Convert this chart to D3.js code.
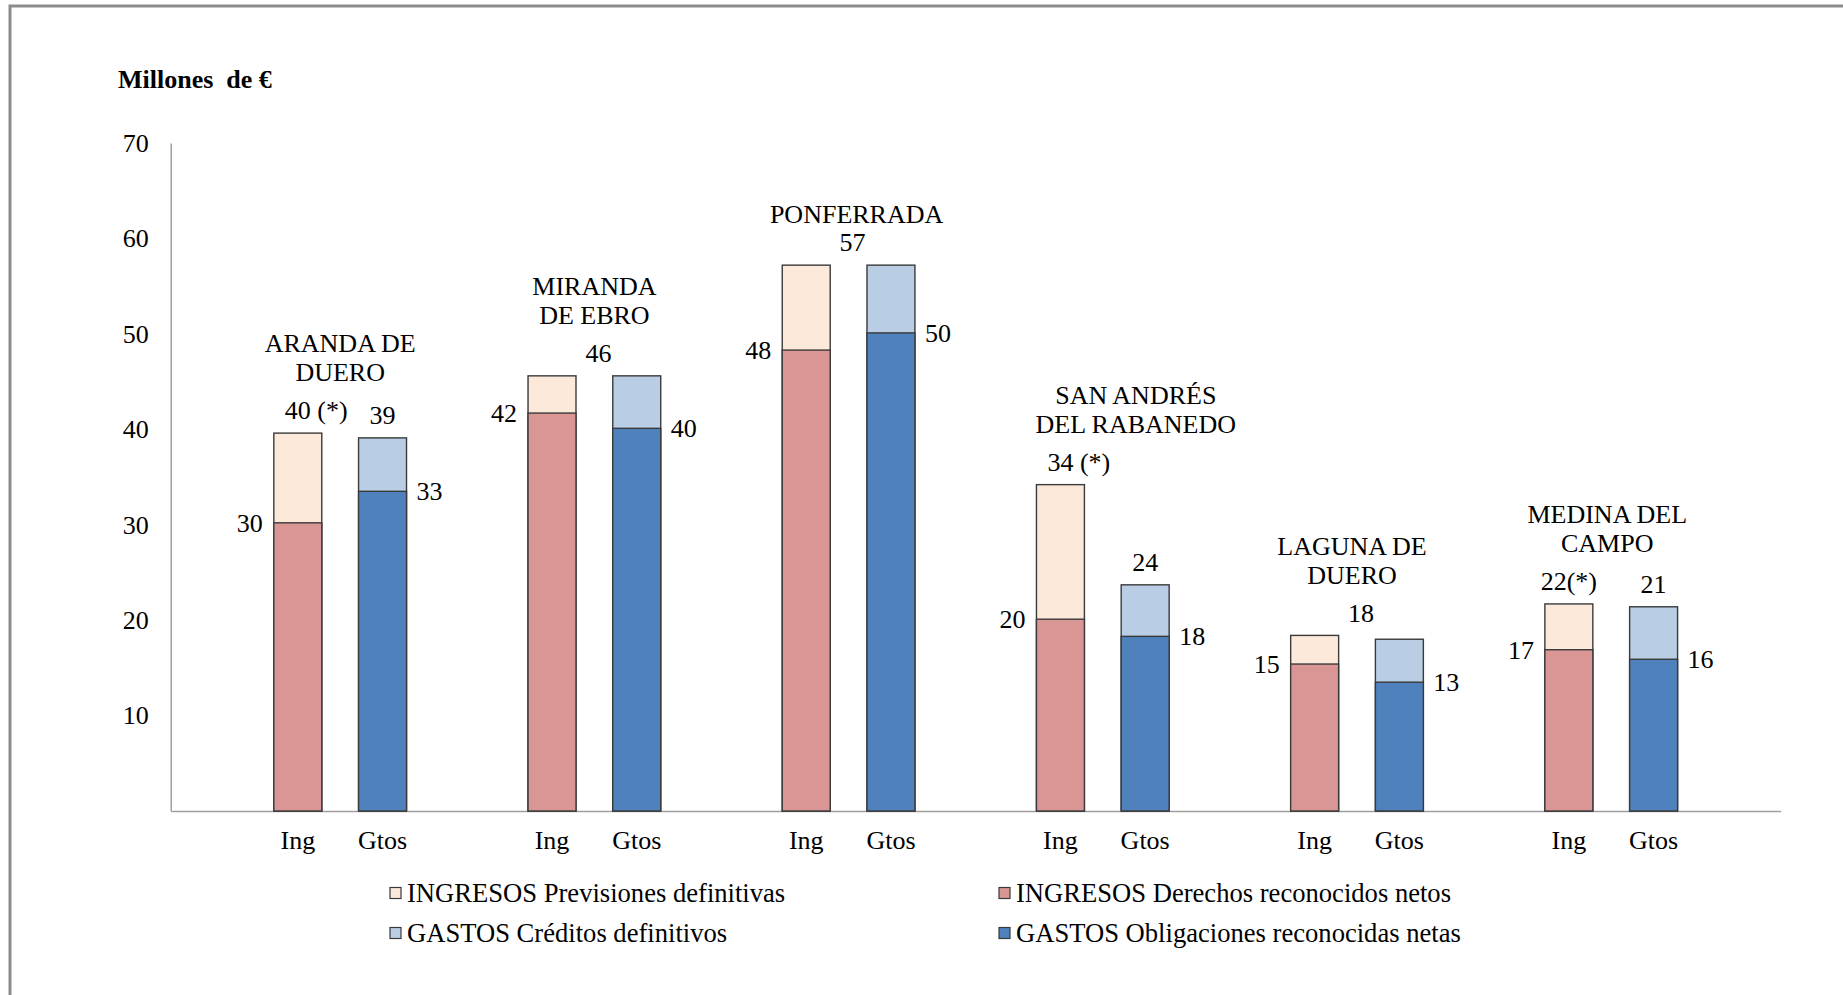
<!DOCTYPE html>
<html>
<head>
<meta charset="utf-8">
<script src="https://cdn.jsdelivr.net/npm/d3@7"></script>
<style>
  html, body { margin: 0; padding: 0; background: #fff; }
  svg { display: block; }
  text { font-family: "Liberation Serif", "Times New Roman", serif; fill: #000; }
</style>
</head>
<body>
<svg id="chart" width="1843" height="995"></svg>
<script>
// ---------- DATA ----------
const cities = [["ARANDA DE", "DUERO"], ["MIRANDA", "DE EBRO"], ["PONFERRADA"], ["SAN ANDRÉS", "DEL RABANEDO"], ["LAGUNA DE", "DUERO"], ["MEDINA DEL", "CAMPO"]];
const ingPrevisiones   = [39.6, 45.6, 57.2, 34.2, 18.4, 21.7];
const ingDerechos      = [30.2, 41.7, 48.3, 20.1, 15.4, 16.9];
const gtosCreditos     = [39.1, 45.6, 57.2, 23.7, 18.0, 21.4];
const gtosObligaciones = [33.5, 40.1, 50.1, 18.3, 13.5, 15.9];
const ingTotalLabels   = ["40 (*)", null, null, "34 (*)", null, "22(*)"];
const gtosTotalLabels  = ["39", null, null, "24", null, "21"];
const sharedTotalLabels = [null, "46", "57", null, "18", null];
const ingDerechosLabels = ["30", "42", "48", "20", "15", "17"];
const gtosObligLabels   = ["33", "40", "50", "18", "13", "16"];
const slotNames = ["", "Ing", "Gtos"];
const yTicks = [10, 20, 30, 40, 50, 60, 70];
const yTitle = "Millones  de €";
const legendItems = ["INGRESOS Previsiones definitivas", "INGRESOS Derechos reconocidos netos", "GASTOS Créditos definitivos", "GASTOS Obligaciones reconocidas netas"];

// ---------- LAYOUT / STYLE ----------
const colors = { prev: "#FDE9D9", der: "#D99694", cred: "#B9CDE5", obl: "#4F81BD" };
const legendColors = [colors.prev, colors.der, colors.cred, colors.obl];
const nameDx = [0, 0, 8, 33, -5, -4];
const FS = 26;
const plot = { left: 170.7, right: 1780.7, top: 143, bottom: 811 };

const svg = d3.select("#chart");

// outer frame
svg.append("rect").attr("x", 10).attr("y", 6).attr("width", 1845).attr("height", 1000)
  .attr("fill", "none").attr("stroke", "#8c8c8c").attr("stroke-width", 3);

// slots: blank, Ing, Gtos per city, plus trailing blank
const slots = [];
cities.forEach((c, i) => slotNames.forEach((s, j) => slots.push({ key: i * 3 + j, label: s })));
slots.push({ key: slots.length, label: "" });

const x = d3.scaleBand().domain(slots.map(d => d.key)).range([plot.left, plot.right])
  .paddingInner(0.434).paddingOuter(0.217);
const y = d3.scaleLinear().domain([0, 70]).range([plot.bottom, plot.top]);

// axes
const yAxis = svg.append("g").attr("transform", `translate(${plot.left},0)`)
  .call(d3.axisLeft(y).tickValues(yTicks).tickSize(0).tickSizeOuter(0).tickPadding(22));
yAxis.select(".domain").attr("stroke", "#a0a0a0").attr("stroke-width", 1.5);
yAxis.selectAll("text").style("font-size", FS + "px").style("font-family", "Liberation Serif, serif").attr("fill", "#000");

const xAxis = svg.append("g").attr("transform", `translate(0,${plot.bottom})`)
  .call(d3.axisBottom(x).tickSize(0).tickSizeOuter(0).tickPadding(20).tickFormat(k => slots[k].label));
xAxis.select(".domain").attr("stroke", "#a0a0a0").attr("stroke-width", 1.5);
xAxis.selectAll("text").style("font-size", FS + "px").style("font-family", "Liberation Serif, serif").attr("fill", "#000");

// y title
svg.append("text").attr("x", 118).attr("y", 88).style("font-size", "26px").style("font-weight", "bold")
  .style("white-space", "pre").attr("xml:space", "preserve").text(yTitle);

// bars
const bars = svg.append("g");
const bw = x.bandwidth();
function bar(slotKey, value, fill) {
  bars.append("rect").attr("x", x(slotKey)).attr("y", y(value)).attr("width", bw)
    .attr("height", y(0) - y(value)).attr("fill", fill).attr("stroke", "#3a3a3a").attr("stroke-width", 1.4);
}
cities.forEach((c, i) => {
  const ki = i * 3 + 1, kg = i * 3 + 2;
  bar(ki, ingPrevisiones[i], colors.prev);
  bar(ki, ingDerechos[i], colors.der);
  bar(kg, gtosCreditos[i], colors.cred);
  bar(kg, gtosObligaciones[i], colors.obl);
});

// labels
const lab = svg.append("g").style("font-size", FS + "px");
function addText(tx, ty, str, anchor) {
  return lab.append("text").attr("x", tx).attr("y", ty).attr("dy", "0.35em").attr("text-anchor", anchor).text(str);
}
function numberCentered(cx, ty, str) {
  // keep the number centered over the bar and let a spaced suffix trail to the right
  const sp = str.indexOf(" ");
  if (sp < 0) return addText(cx, ty, str, "middle");
  const t = addText(0, ty, str.slice(0, sp), "start");
  const w = t.node().getComputedTextLength();
  t.text(str).attr("x", cx - w / 2);
  return t;
}
const GAP = 23;
cities.forEach((c, i) => {
  const ki = i * 3 + 1, kg = i * 3 + 2;
  const ci = x(ki) + bw / 2, cg = x(kg) + bw / 2;
  const labelYs = [];
  if (sharedTotalLabels[i]) {
    const ty = Math.min(y(ingPrevisiones[i]), y(gtosCreditos[i])) - GAP;
    addText((ci + cg) / 2 + 4, ty, sharedTotalLabels[i], "middle");
    labelYs.push(ty);
  } else {
    const ty1 = y(ingPrevisiones[i]) - GAP, ty2 = y(gtosCreditos[i]) - GAP;
    numberCentered(ci, ty1, ingTotalLabels[i]);
    numberCentered(cg, ty2, gtosTotalLabels[i]);
    labelYs.push(ty1, ty2);
  }
  // inner labels
  addText(x(ki) - 11, y(ingDerechos[i]), ingDerechosLabels[i], "end");
  addText(x(kg) + bw + 10, y(gtosObligaciones[i]), gtosObligLabels[i], "start");
  // city name
  const lines = c;
  const lastY = d3.min(labelYs) - (lines.length > 1 ? 38 : 28);
  const nx = (ci + cg) / 2 + nameDx[i];
  lines.forEach((ln, j) => addText(nx, lastY - (lines.length - 1 - j) * 29, ln, "middle"));
});

// legend
const leg = svg.append("g").style("font-size", "26.6px");
const legCols = [390, 999], legRows = [893, 933];
legendItems.forEach((t, i) => {
  const cx = legCols[i % 2], cy = legRows[Math.floor(i / 2)];
  leg.append("rect").attr("x", cx).attr("y", cy - 5.5).attr("width", 11).attr("height", 11)
    .attr("fill", legendColors[i]).attr("stroke", "#3a3a3a").attr("stroke-width", 1.2);
  leg.append("text").attr("x", cx + 17).attr("y", cy).attr("dy", "0.33em").text(t);
});
</script>
</body>
</html>
